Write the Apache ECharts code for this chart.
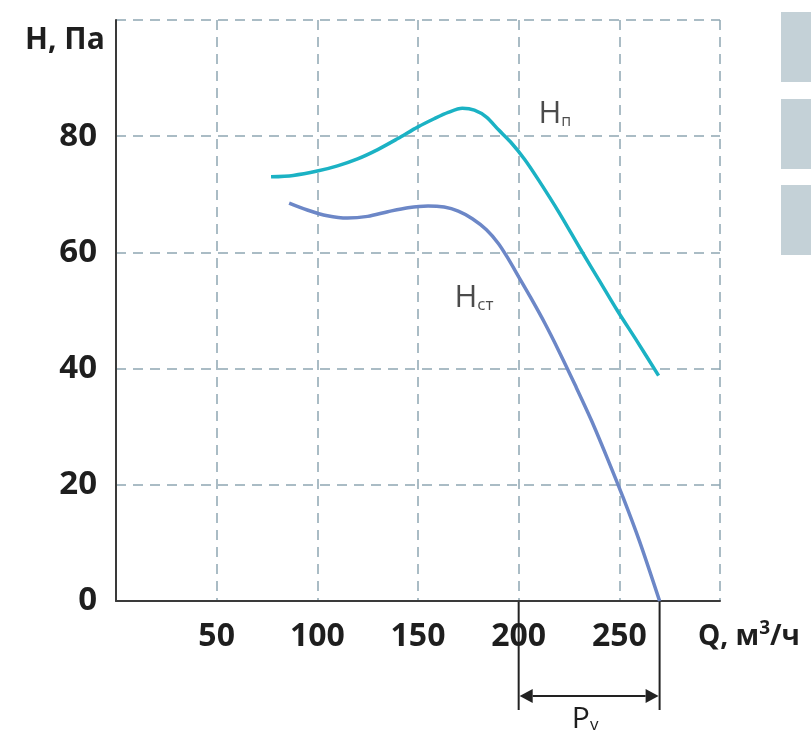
<!DOCTYPE html>
<html><head><meta charset="utf-8">
<script src="https://cdn.jsdelivr.net/npm/echarts@6/dist/echarts.min.js"></script>
<style>html,body{margin:0;padding:0;background:#fff}#c{width:811px;height:730px}</style>
</head><body><div id="c"></div>
<script>
// ---- data ----
const xRange = [0, 300];
const xStep = 50;
const yRange = [0, 100];
const yStep = 20;
const hiddenXLabels = [0, 300];
const hiddenYLabels = [100];

// Hп (total pressure)
const hpQ = [77, 88, 100, 110, 120, 130, 140, 150, 158, 165, 172, 178, 184, 190, 196, 203, 210, 220, 231.3, 240, 249, 259, 269.5];
const hpH = [73.0, 73.25, 74.0, 74.9, 76.1, 77.7, 79.6, 81.6, 83.0, 84.1, 84.8, 84.5, 83.3, 81.1, 79.0, 76.0, 72.4, 66.9, 60.2, 55.2, 50.0, 44.6, 38.8];

// Hст (static pressure)
const hstQ = [86, 95, 105, 115, 125, 135, 145, 155, 163, 170, 177, 184, 190, 195, 200, 206, 213, 220, 228, 236, 244, 252, 260, 270];
const hstH = [68.5, 67.3, 66.3, 65.9, 66.2, 67.0, 67.7, 68.0, 67.8, 67.1, 65.8, 63.9, 61.5, 58.8, 55.8, 52.2, 47.8, 43.0, 37.2, 31.2, 24.6, 17.7, 10.3, 0];

// curve labels [Q, H]
const hpLabelPos = [218, 84.1];
const hstLabelPos = [177.8, 52.4];

// working range Pv
const pvRange = [200, 270];

const FONT = '"Open Sans", "Noto Sans", sans-serif';
const TEAL = '#1bb2c4';
const BLUE = '#6c87c7';
const GRIDC = '#8fa6b2';
const AXISC = '#3a3a3a';

const chart = echarts.init(document.getElementById('c'));

const option = {
  animation: false,
  backgroundColor: '#fff',
  grid: { left: 116, right: 91, top: 20, bottom: 129, containLabel: false },
  xAxis: {
    type: 'value', min: xRange[0], max: xRange[1], interval: xStep,
    axisLine: { show: true, lineStyle: { color: AXISC, width: 2 } },
    axisTick: { show: false },
    splitLine: { show: true, lineStyle: { color: GRIDC, width: 1.5, type: [10, 7] } },
    axisLabel: {
      margin: 20, fontSize: 32, fontWeight: 'bold', fontFamily: FONT, color: '#1e1e1e',
      formatter: v => hiddenXLabels.includes(v) ? '' : String(v)
    }
  },
  yAxis: {
    type: 'value', min: yRange[0], max: yRange[1], interval: yStep,
    axisLine: { show: true, lineStyle: { color: AXISC, width: 2 } },
    axisTick: { show: false },
    splitLine: { show: true, lineStyle: { color: GRIDC, width: 1.5, type: [10, 7] } },
    axisLabel: {
      margin: 19, fontSize: 33, fontWeight: 'bold', fontFamily: FONT, color: '#1e1e1e',
      formatter: v => hiddenYLabels.includes(v) ? '' : String(v)
    }
  },
  series: [
    {
      name: 'Hп', type: 'line', smooth: 0.3, showSymbol: false,
      lineStyle: { color: TEAL, width: 3.5 },
      data: hpQ.map((q, i) => [q, hpH[i]]), z: 3
    },
    {
      name: 'Hст', type: 'line', smooth: 0.3, showSymbol: false,
      lineStyle: { color: BLUE, width: 3.5 },
      data: hstQ.map((q, i) => [q, hstH[i]]), z: 3
    },
    {
      type: 'scatter', symbolSize: 0, silent: true,
      data: [
        { value: hpLabelPos, label: { formatter: '{h|H}{a|п}' } },
        { value: hstLabelPos, label: { formatter: '{h|H}{b|ст}' } }
      ],
      label: {
        show: true, position: 'inside', color: '#1e1e1e',
        rich: {
          h: { fontSize: 31, lineHeight: 34, fontFamily: FONT, color: '#1e1e1e', verticalAlign: 'bottom' },
          a: { fontSize: 16, lineHeight: 18, fontFamily: FONT, color: '#1e1e1e', verticalAlign: 'bottom' },
          b: { fontSize: 17, lineHeight: 12, fontFamily: FONT, color: '#1e1e1e', verticalAlign: 'bottom' }
        }
      }
    }
  ]
};
chart.setOption(option);

// annotations
const p0 = chart.convertToPixel({ gridIndex: 0 }, [pvRange[0], 0]);
const p1 = chart.convertToPixel({ gridIndex: 0 }, [pvRange[1], 0]);
const axisY = p0[1];
const rightPix = chart.convertToPixel({ gridIndex: 0 }, [xRange[1], 0]);
const arrowY = axisY + 95;
const lineEnd = axisY + 109;
const ah = 14, aw = 7;

chart.setOption({
  graphic: [
    { type: 'text', left: 25, top: 25, style: { text: 'H, Па', font: 'bold 30px ' + FONT, fill: '#1e1e1e' } },
    {
      type: 'text', x: rightPix[0] - 22, y: axisY + 18,
      style: {
        text: '{b|Q, м}{s|3}{b|/ч}', fill: '#1e1e1e',
        rich: {
          b: { font: 'bold 28px ' + FONT, fill: '#1e1e1e', lineHeight: 32, verticalAlign: 'bottom' },
          s: { font: 'bold 19px ' + FONT, fill: '#1e1e1e', lineHeight: 30, verticalAlign: 'top' }
        }
      }
    },
    { type: 'line', shape: { x1: p0[0], y1: axisY, x2: p0[0], y2: lineEnd }, style: { stroke: '#222', lineWidth: 2 } },
    { type: 'line', shape: { x1: p1[0], y1: axisY, x2: p1[0], y2: lineEnd }, style: { stroke: '#222', lineWidth: 2 } },
    { type: 'line', shape: { x1: p0[0] + ah, y1: arrowY, x2: p1[0] - ah, y2: arrowY }, style: { stroke: '#222', lineWidth: 2 } },
    { type: 'polygon', shape: { points: [[p0[0] + 1, arrowY], [p0[0] + ah, arrowY - aw], [p0[0] + ah, arrowY + aw]] }, style: { fill: '#222' } },
    { type: 'polygon', shape: { points: [[p1[0] - 1, arrowY], [p1[0] - ah, arrowY - aw], [p1[0] - ah, arrowY + aw]] }, style: { fill: '#222' } },
    {
      type: 'text', x: (p0[0] + p1[0]) / 2 - 4, y: arrowY + 6,
      style: {
        text: '{p|P}{v|v}', align: 'center', verticalAlign: 'top',
        rich: {
          p: { font: '30px ' + FONT, fill: '#1e1e1e', lineHeight: 32, verticalAlign: 'bottom' },
          v: { font: '17px ' + FONT, fill: '#1e1e1e', lineHeight: 12, verticalAlign: 'bottom' }
        }
      }
    },
    { type: 'rect', shape: { x: 781, y: 12, width: 30, height: 70 }, style: { fill: '#c4d1d7' } },
    { type: 'rect', shape: { x: 781, y: 99, width: 30, height: 70 }, style: { fill: '#c4d1d7' } },
    { type: 'rect', shape: { x: 781, y: 185, width: 30, height: 70 }, style: { fill: '#c4d1d7' } }
  ]
});
</script>
</body></html>
